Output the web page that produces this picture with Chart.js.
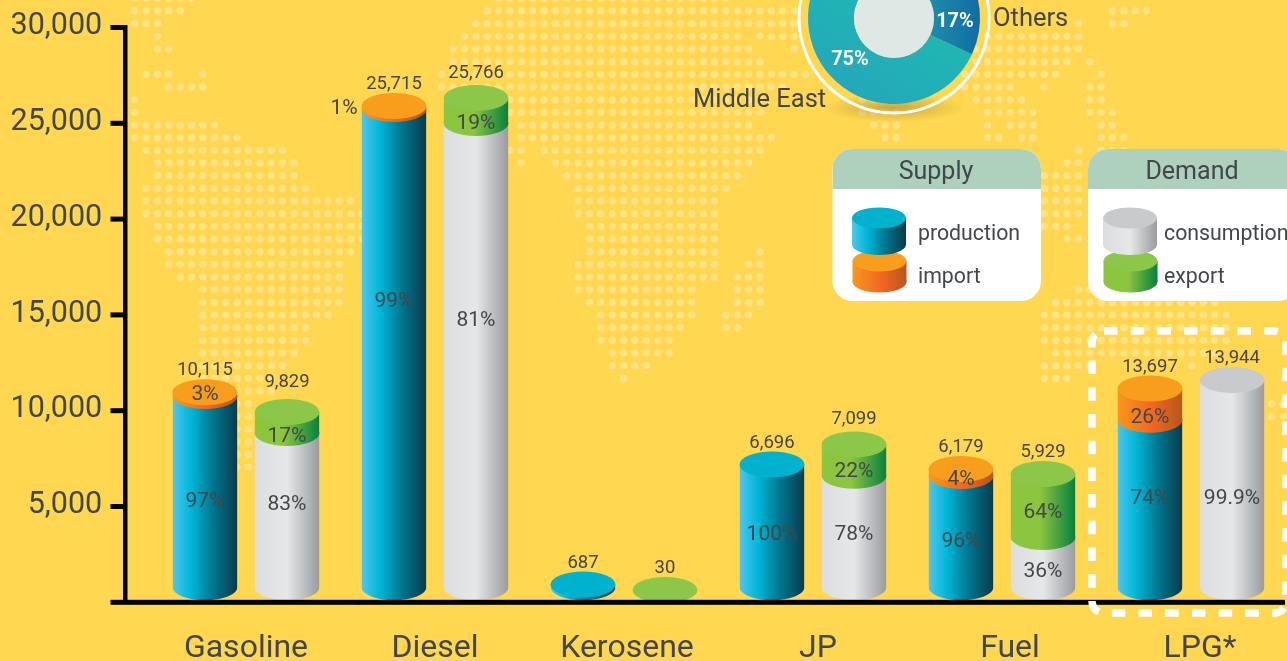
<!DOCTYPE html>
<html>
<head>
<meta charset="utf-8">
<title>Supply and demand</title>
<script src="https://cdn.jsdelivr.net/npm/chart.js@4"></script>
<style>
    html, body { margin: 0; padding: 0; background: #FFD751; overflow: hidden; }
    #page { position: relative; width: 1287px; height: 661px; overflow: hidden; }
    #barChart { position: absolute; left: 0; top: 0; }
    #pieChart { position: absolute; left: 774px; top: -102px; }
</style>
</head>
<body>
<div id="page">
    <canvas id="barChart" width="1287" height="661"></canvas>
    <canvas id="pieChart" width="240" height="240"></canvas>
</div>
<script>
// Chart data
const categories = ['Gasoline', 'Diesel', 'Kerosene', 'JP', 'Fuel', 'LPG*'];
const yTicks = [0, 5000, 10000, 15000, 20000, 25000, 30000];

// Bar heights as they are drawn against the axis (the artwork is not exactly to scale with its printed totals)
const production = [10767, 25746, 929, 7192, 6592, 9530];
const imported = [193, 157, 0, 0, 365, 1628];
const consumption = [8836, 25016, 0, 6608, 3408, 11602];
const exported = [1096, 1305, 642, 1628, 3288, 0];

// Printed labels
const supplyTotals = ['10,115', '25,715', '687', '6,696', '6,179', '13,697'];
const demandTotals = ['9,829', '25,766', '30', '7,099', '5,929', '13,944'];
const productionPct = ['97%', '99%', '', '100%', '96%', '74%'];
const importPct = ['3%', '1%', '', '', '4%', '26%'];
const consumptionPct = ['83%', '81%', '', '78%', '36%', '99.9%'];
const exportPct = ['17%', '19%', '', '22%', '64%', ''];

// Pie data (the third slice is cut off by the top of the picture)
const pieLabels = ['Middle East', 'Unseen', 'Others'];
const pieValues = [75, 8, 17];

// Style
const TEXT_COLOR = '#43464a';
const FONT = 'Roboto';
const RY = 13;
const BASE_LIFT = 15;
const SIDE = {
    production: [[0, '#4fc6ee'], [0.28, '#00b7d8'], [0.62, '#00768f'], [1, '#0b3a4c']],
    imported: [[0, '#f8981d'], [0.55, '#f26522'], [1, '#b5571c']],
    consumption: [[0, '#dcddde'], [0.5, '#e6e7e8'], [1, '#9a9b9f']],
    exported: [[0, '#8cc63f'], [0.45, '#8cc63f'], [1, '#07803f']]
};
const TOP = { production: '#00b2cd', imported: '#f99d1c', consumption: '#c9cacc', exported: '#8cc749' };

// Label nudges in pixels, per category
const productionShift = [1.5, -55, 0, 0, 2, -13];
const importShift = [0, 0, 0, 0, 6.5, 13];
const consumptionShift = [-13.5, -42.5, 0, -5, 1.5, 7];
const exportShift = [13.5, 12.5, 0, 11, 6.5, 0];
const demandTotalShift = [8, 3, 0, 3.5, 0, 0];
const categoryLabelShift = [0, 0, 3, 5, 8, 9];

// Dotted world map: row, then pairs of first and last column
const mapRows = [
    [-1, 0, 5, 32, 52], [0, 0, 4, 31, 58, 86, 89], [1, 0, 2, 30, 58, 83, 83, 86, 87], [2, 2, 2, 29, 53, 55, 58, 75, 83],
    [3, 2, 3, 28, 54, 58, 58, 74, 83], [4, 28, 55, 74, 82, 84, 84], [5, 1, 3, 6, 6, 27, 59, 73, 81, 85, 85],
    [6, 3, 6, 27, 57, 73, 77, 80, 80, 84, 85], [7, 0, 0, 33, 55, 64, 66, 74, 78, 84, 85], [8, 0, 0, 33, 55, 64, 67, 75, 79, 84, 86],
    [9, 0, 7, 34, 54, 65, 67, 75, 75, 77, 79, 85, 86], [10, 0, 9, 34, 56, 66, 67, 75, 76, 78, 79, 85, 87],
    [11, 1, 13, 33, 34, 36, 55, 83, 83, 85, 87], [12, 2, 14, 34, 34, 37, 54, 82, 83], [13, 2, 14, 38, 53, 80, 83],
    [14, 1, 15, 39, 52, 80, 83], [15, 1, 19, 39, 51, 80, 83], [16, 1, 20, 39, 51, 80, 83], [17, 2, 20, 40, 51, 80, 82],
    [18, 2, 20, 40, 51, 82, 83], [19, 3, 19, 40, 51, 55, 55], [20, 3, 18, 39, 51, 54, 55], [21, 4, 18, 39, 51, 53, 55],
    [22, 6, 18, 39, 49, 53, 55, 83, 84], [23, 6, 18, 40, 49, 53, 55, 81, 95], [24, 6, 17, 41, 49, 52, 54, 80, 96],
    [25, 6, 15, 41, 48, 52, 53, 80, 96], [26, 6, 15, 41, 47, 80, 96], [27, 6, 14, 42, 47, 81, 95], [28, 6, 13, 42, 45, 80, 84, 93, 93],
    [29, 6, 12, 43, 43, 80, 82], [30, 6, 12], [31, 6, 10, 100, 101], [32, 6, 10, 100, 101], [33, 7, 10], [34, 7, 10], [35, 8, 10], [36, 8, 10]
];

// Left to right gradient across one bar
function sideGradient(ctx, x, w, stops) {
    const gradient = ctx.createLinearGradient(x - w / 2, 0, x + w / 2, 0);
    stops.forEach(([at, color]) => gradient.addColorStop(at, color));
    return gradient;
}

function fillEllipse(ctx, x, y, rx, ry, fill) {
    ctx.beginPath();
    ctx.ellipse(x, y, rx, ry, 0, 0, Math.PI * 2);
    ctx.fillStyle = fill;
    ctx.fill();
}

function drawText(ctx, text, x, y, font, color, align) {
    ctx.font = font;
    ctx.fillStyle = color || TEXT_COLOR;
    ctx.textAlign = align || 'center';
    ctx.textBaseline = 'middle';
    ctx.fillText(text, x, y);
}

// Small cylinder of the legend boxes
function legendCylinder(ctx, x, w, top, bottom, stops, topColor) {
    const ry = 10.5;
    ctx.beginPath();
    ctx.rect(x - w / 2, top, w, bottom - top);
    ctx.fillStyle = sideGradient(ctx, x, w, stops);
    ctx.fill();
    fillEllipse(ctx, x, bottom, w / 2, ry, sideGradient(ctx, x, w, stops));
    fillEllipse(ctx, x, top, w / 2, ry, topColor);
}

function legendBox(ctx, left, width, title, titleX, names, lowerKey, upperKey, cx, textX) {
    const top = 149;
    const bottom = 301;
    ctx.save();
    ctx.beginPath();
    ctx.roundRect(left, top, width, bottom - top, 20);
    ctx.fillStyle = '#ffffff';
    ctx.fill();
    ctx.clip();
    ctx.fillStyle = '#add1bd';
    ctx.fillRect(left, top, width, 40);
    ctx.restore();
    drawText(ctx, title, titleX, 172.5, `25px ${FONT}`);
    legendCylinder(ctx, cx + 0.5, 54, 261, 282, SIDE[upperKey], TOP[upperKey]);
    legendCylinder(ctx, cx, 54, 218, 244.5, SIDE[lowerKey], TOP[lowerKey]);
    drawText(ctx, names[0], textX, 234.5, `21.3px ${FONT}`, null, 'left');
    drawText(ctx, names[1], textX, 277.5, `21.3px ${FONT}`, null, 'left');
}

// Draws the cylinder look on top of the stacked bars
const cylinderPlugin = {
    id: 'cylinder',
    beforeDraw(chart) {
        // Category labels do not sit quite evenly in the picture
        const xScale = chart.scales.x;
        xScale.getLabelItems(chart.chartArea).forEach((item, i) => {
            item.options.translation[0] = xScale.getPixelForTick(i) + categoryLabelShift[i];
        });

        // World map dots
        const ctx = chart.ctx;
        ctx.fillStyle = 'rgba(255, 255, 255, 0.3)';
        mapRows.forEach(([row, ...spans]) => {
            for (let s = 0; s < spans.length; s += 2) {
                for (let c = spans[s]; c <= spans[s + 1]; c++) {
                    ctx.beginPath();
                    ctx.arc(134.7 + 11.37 * c, 11 + 12.67 * row, 3.7, 0, Math.PI * 2);
                    ctx.fill();
                }
            }
        });
    },
    beforeDatasetDraw(chart, args) {
        // Round off the foot of each bar
        const ctx = chart.ctx;
        const footY = chart.scales.y.getPixelForValue(0) - BASE_LIFT;
        ctx.save();
        ctx.beginPath();
        args.meta.data.forEach((bar) => {
            ctx.rect(bar.x - bar.width / 2, 0, bar.width, footY);
            ctx.ellipse(bar.x, footY, bar.width / 2, RY, 0, 0, Math.PI * 2);
        });
        ctx.clip();
    },
    afterDatasetDraw(chart) {
        chart.ctx.restore();
    },
    afterDatasetsDraw(chart) {
        const ctx = chart.ctx;
        const yScale = chart.scales.y;

        // Upper segments sag over the lower one, then the lids go on
        [[0, 1, supplyTotals, null], [2, 3, demandTotals, demandTotalShift]].forEach(([low, up, totals, shift]) => {
            const lowSet = chart.data.datasets[low];
            const upSet = chart.data.datasets[up];
            const lowMeta = chart.getDatasetMeta(low);
            const upMeta = chart.getDatasetMeta(up);
            categories.forEach((name, i) => {
                const hasUp = upSet.data[i] > 0;
                const bar = hasUp ? upMeta.data[i] : lowMeta.data[i];
                if (hasUp && lowSet.data[i] > 0) {
                    fillEllipse(ctx, bar.x, bar.base, bar.width / 2, RY, sideGradient(ctx, bar.x, bar.width, SIDE[upSet.key]));
                }
                fillEllipse(ctx, bar.x, bar.y, bar.width / 2, RY, TOP[hasUp ? upSet.key : lowSet.key]);
                drawText(ctx, totals[i], bar.x, bar.y - RY - 8.5 - (shift ? shift[i] : 0), `18.5px ${FONT}`);
            });
        });

        // Percent labels
        [[0, productionPct, productionShift], [1, importPct, importShift], [2, consumptionPct, consumptionShift], [3, exportPct, exportShift]].forEach(([index, labels, shift]) => {
            chart.getDatasetMeta(index).data.forEach((bar, i) => {
                if (!labels[i]) return;
                const dx = labels[i] === '1%' ? -50 : 0;
                drawText(ctx, labels[i], bar.x + dx, (bar.y + bar.base) / 2 + shift[i] + 1, `21px ${FONT}`);
            });
        });

        // Axis lines and tick marks
        const zero = yScale.getPixelForValue(0);
        ctx.fillStyle = '#000000';
        ctx.fillRect(123, 25, 4.5, zero - 25);
        ctx.fillRect(110.5, zero - 2.5, 1174.5, 5);
        yScale.ticks.forEach((tick) => {
            if (tick.value > 0) ctx.fillRect(110.5, yScale.getPixelForValue(tick.value) - 2.5, 13, 5);
        });

        // Dashed frame around LPG
        ctx.save();
        ctx.strokeStyle = '#ffffff';
        ctx.lineWidth = 7.5;
        ctx.setLineDash([13.5, 13.2]);
        ctx.beginPath();
        ctx.roundRect(1092, 331, 194, 282, 12);
        ctx.stroke();
        ctx.restore();

        // Legend boxes
        legendBox(ctx, 832.5, 208.5, 'Supply', 936, ['production', 'import'], 'production', 'imported', 879, 918);
        legendBox(ctx, 1088, 210, 'Demand', 1192, ['consumption', 'export'], 'consumption', 'exported', 1130, 1164);

        // Pie labels
        drawText(ctx, 'Middle East', 693, 101, `25.5px ${FONT}`, null, 'left');
        drawText(ctx, 'Others', 993, 20, `25.5px ${FONT}`, null, 'left');
    }
};

function barDataset(label, data, key, stack) {
    return {
        label: label,
        data: data,
        key: key,
        stack: stack,
        // Build the gradient from the scale so it follows the bar
        backgroundColor: (ctx) => {
            if (ctx.dataIndex === undefined || !ctx.chart.chartArea) return TOP[key];
            const slot = ctx.chart.scales.x.width / categories.length * 0.868 / 4;
            const x = ctx.chart.scales.x.getPixelForValue(ctx.dataIndex) + (stack === 'supply' ? -slot : slot);
            return sideGradient(ctx.chart.ctx, x, 65, SIDE[key]);
        }
    };
}

// The scales keep no extra padding, so the plot area lands exactly on the picture's axes
function noPadding(scale) {
    scale.paddingTop = 0;
    scale.paddingBottom = 0;
    scale.paddingLeft = 0;
    scale.paddingRight = 0;
}

// Main chart
new Chart(document.getElementById('barChart'), {
    type: 'bar',
    data: {
        labels: categories,
        datasets: [
            barDataset('production', production, 'production', 'supply'),
            barDataset('import', imported, 'imported', 'supply'),
            barDataset('consumption', consumption, 'consumption', 'demand'),
            barDataset('export', exported, 'exported', 'demand')
        ]
    },
    options: {
        responsive: false,
        animation: false,
        categoryPercentage: 0.868,
        barPercentage: 0.79,
        layout: { padding: { top: 27.5, right: 1.5, left: 0, bottom: 0 } },
        plugins: { legend: { display: false }, tooltip: { enabled: false } },
        scales: {
            x: {
                stacked: true,
                afterFit: (scale) => { scale.height = 58.7; noPadding(scale); },
                grid: { display: false, drawTicks: false },
                border: { display: false },
                ticks: { color: TEXT_COLOR, font: { family: FONT, size: 32 }, padding: 27.5, maxRotation: 0 }
            },
            y: {
                stacked: true,
                min: 0,
                max: 30000,
                afterFit: (scale) => { scale.width = 151.5; noPadding(scale); },
                afterBuildTicks: (scale) => { scale.ticks = yTicks.map((value) => ({ value: value })); },
                grid: { display: false, drawTicks: false },
                border: { display: false },
                ticks: {
                    color: TEXT_COLOR,
                    font: { family: FONT, size: 30.5 },
                    padding: 49.3,
                    labelOffset: -1,
                    callback: (value) => (value === 0 ? '' : value.toLocaleString('en-US'))
                }
            }
        }
    },
    plugins: [cylinderPlugin]
});

// Pie hole, ring and labels
const piePlugin = {
    id: 'pieDecor',
    beforeDraw(chart) {
        const ctx = chart.ctx;
        const arc = chart.getDatasetMeta(0).data[0];
        const glow = ctx.createRadialGradient(0, 0, 0, 0, 0, 1);
        glow.addColorStop(0, 'rgba(120, 100, 40, 0.4)');
        glow.addColorStop(1, 'rgba(120, 100, 40, 0)');
        ctx.save();
        ctx.translate(arc.x, arc.y + 90);
        ctx.scale(70, 14);
        ctx.beginPath();
        ctx.arc(0, 0, 1, 0, Math.PI * 2);
        ctx.fillStyle = glow;
        ctx.fill();
        ctx.restore();
    },
    afterDraw(chart) {
        const ctx = chart.ctx;
        const arc = chart.getDatasetMeta(0).data[0];
        fillEllipse(ctx, arc.x, arc.y, arc.innerRadius, arc.innerRadius, '#dee8e4');
        ctx.beginPath();
        ctx.arc(arc.x, arc.y, 95, 0, Math.PI * 2);
        ctx.strokeStyle = '#ffffff';
        ctx.lineWidth = 3;
        ctx.stroke();
        drawText(ctx, '75%', arc.x - 44, arc.y + 42, `bold 20px ${FONT}`, '#ffffff');
        drawText(ctx, '17%', arc.x + 61, arc.y + 4, `bold 20px ${FONT}`, '#ffffff');
    }
};

const pieCanvas = document.getElementById('pieChart');
const pieCtx = pieCanvas.getContext('2d');
const teal = pieCtx.createLinearGradient(170, 100, 90, 220);
teal.addColorStop(0, '#1cbcae');
teal.addColorStop(1, '#26a5bd');
const blue = pieCtx.createLinearGradient(150, 110, 210, 110);
blue.addColorStop(0, '#2090ab');
blue.addColorStop(1, '#0f6aa3');

new Chart(pieCanvas, {
    type: 'doughnut',
    data: {
        labels: pieLabels,
        datasets: [{ data: pieValues, backgroundColor: [teal, '#1c8fa8', blue], borderWidth: 0 }]
    },
    options: {
        responsive: false,
        animation: false,
        rotation: 115,
        cutout: 40,
        layout: { padding: 34 },
        plugins: { legend: { display: false }, tooltip: { enabled: false } }
    },
    plugins: [piePlugin]
});
</script>
</body>
</html>
